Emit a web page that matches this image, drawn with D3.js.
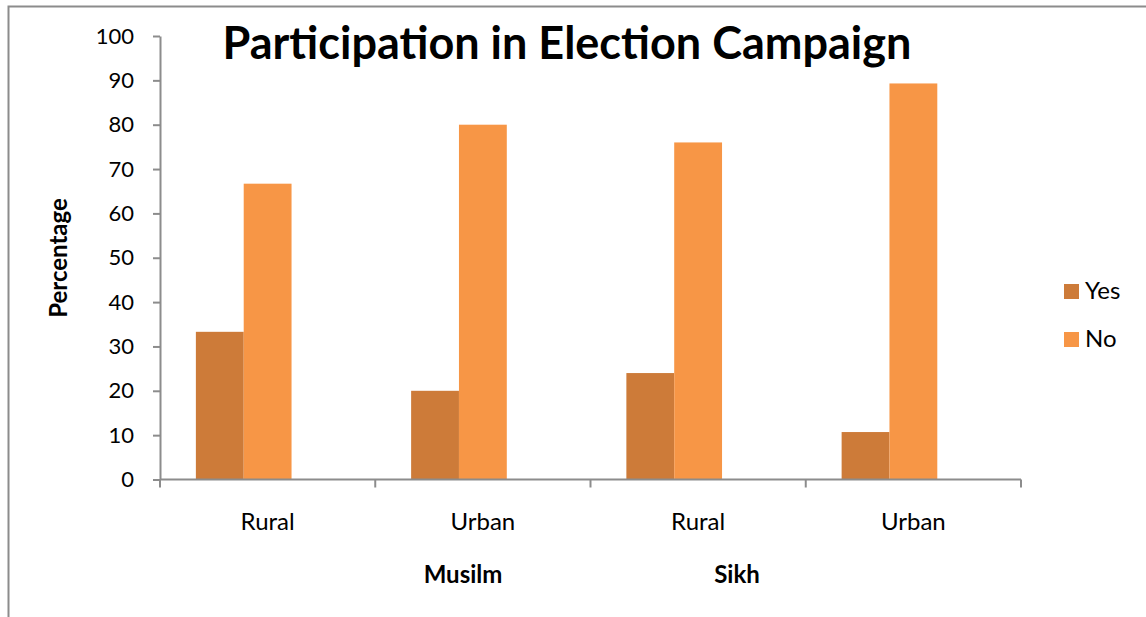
<!DOCTYPE html>
<html>
<head>
<meta charset="utf-8">
<script src="https://cdn.jsdelivr.net/npm/d3@7"></script>
<style>
  html, body { margin: 0; padding: 0; background: #fff; }
  svg { display: block; font-family: Lato, "Open Sans", sans-serif; }
</style>
</head>
<body>
<svg id="chart" width="1146" height="617"></svg>
<script>
// Participation in election campaign, by community and locality (%)
const categories = ["Rural", "Urban", "Rural", "Urban"];
const groups = ["Musilm", "Sikh"];
const seriesNames = ["Yes", "No"];
const yesValues = [33.3, 20, 24, 10.7];
const noValues = [66.7, 80, 76, 89.3];
const yTicks = [0, 10, 20, 30, 40, 50, 60, 70, 80, 90, 100];

const colors = { Yes: "#CD7B39", No: "#F79646" };

const svg = d3.select("#chart");

// outer frame (only left and top edges fall inside the view)
svg.append("rect")
  .attr("x", 8.5).attr("y", 6.5)
  .attr("width", 1200).attr("height", 700)
  .attr("fill", "none").attr("stroke", "#8c8c8c").attr("stroke-width", 2);

const plot = { left: 160, right: 1021, top: 36, bottom: 479.5 };

const x = d3.scaleBand()
  .domain(d3.range(categories.length))
  .range([plot.left, plot.right])
  .paddingInner(0).paddingOuter(0);

// three slots per category (third slot unused), with 150% gap
const slots = ["Yes", "No", "_"];
const xs = d3.scaleBand()
  .domain(slots)
  .range([0, x.bandwidth()])
  .paddingInner(0)
  .paddingOuter(0.75);

const y = d3.scaleLinear().domain([0, 100]).range([plot.bottom, plot.top]);

// bars
const rows = categories.map((c, i) => ({ i, Yes: yesValues[i], No: noValues[i] }));
seriesNames.forEach(s => {
  svg.append("g").selectAll("rect")
    .data(rows)
    .join("rect")
    .attr("x", d => x(d.i) + xs(s))
    .attr("y", d => y(d[s]))
    .attr("width", xs.bandwidth())
    .attr("height", d => y(0) - y(d[s]))
    .attr("fill", colors[s]);
});

const axisColor = "#8c8c8c";

// y axis
const yAxis = svg.append("g")
  .attr("transform", `translate(${plot.left},0)`)
  .call(d3.axisLeft(y).tickValues(yTicks).tickSize(7).tickPadding(19).tickSizeOuter(0));
yAxis.select(".domain").attr("stroke", axisColor).attr("stroke-width", 2);
yAxis.selectAll(".tick line").attr("stroke", axisColor).attr("stroke-width", 2);
yAxis.selectAll(".tick text")
  .attr("font-size", 22).attr("fill", "#000")
  .attr("font-family", "Lato, sans-serif");

// x axis: category boundary ticks
const xAxis = svg.append("g").attr("transform", `translate(0,${plot.bottom})`);
xAxis.append("line")
  .attr("x1", plot.left).attr("x2", plot.right)
  .attr("stroke", axisColor).attr("stroke-width", 2);
const boundaries = d3.range(categories.length + 1).map(i => i === categories.length ? plot.right : x(i));
xAxis.selectAll("line.tk")
  .data(boundaries)
  .join("line")
  .attr("class", "tk")
  .attr("x1", d => d).attr("x2", d => d)
  .attr("y1", 0).attr("y2", 8)
  .attr("stroke", axisColor).attr("stroke-width", 2);
xAxis.selectAll("text")
  .data(categories)
  .join("text")
  .attr("x", (d, i) => x(i) + x.bandwidth() / 2)
  .attr("y", 50)
  .attr("text-anchor", "middle")
  .attr("font-size", 24)
  .text(d => d);

// group labels
const groupX = [463, 737];
svg.selectAll("text.group")
  .data(groups)
  .join("text")
  .attr("class", "group")
  .attr("x", (d, i) => groupX[i])
  .attr("y", 583)
  .attr("text-anchor", "middle")
  .attr("font-size", 24)
  .attr("font-weight", "bold")
  .text(d => d);

// y axis title
svg.append("text")
  .attr("transform", "translate(67,258) rotate(-90)")
  .attr("text-anchor", "middle")
  .attr("font-size", 24)
  .attr("font-weight", "bold")
  .text("Percentage");

// chart title
svg.append("text")
  .attr("x", 567).attr("y", 59)
  .attr("text-anchor", "middle")
  .attr("font-size", 45)
  .attr("font-weight", "bold")
  .text("Participation in Election Campaign");

// legend
const legend = svg.append("g").selectAll("g")
  .data(seriesNames)
  .join("g")
  .attr("transform", (d, i) => `translate(1064,${284 + i * 48})`);
legend.append("rect")
  .attr("width", 15).attr("height", 15)
  .attr("fill", d => colors[d]);
legend.append("text")
  .attr("x", 21).attr("y", 15)
  .attr("font-size", 24)
  .text(d => d);
</script>
</body>
</html>
